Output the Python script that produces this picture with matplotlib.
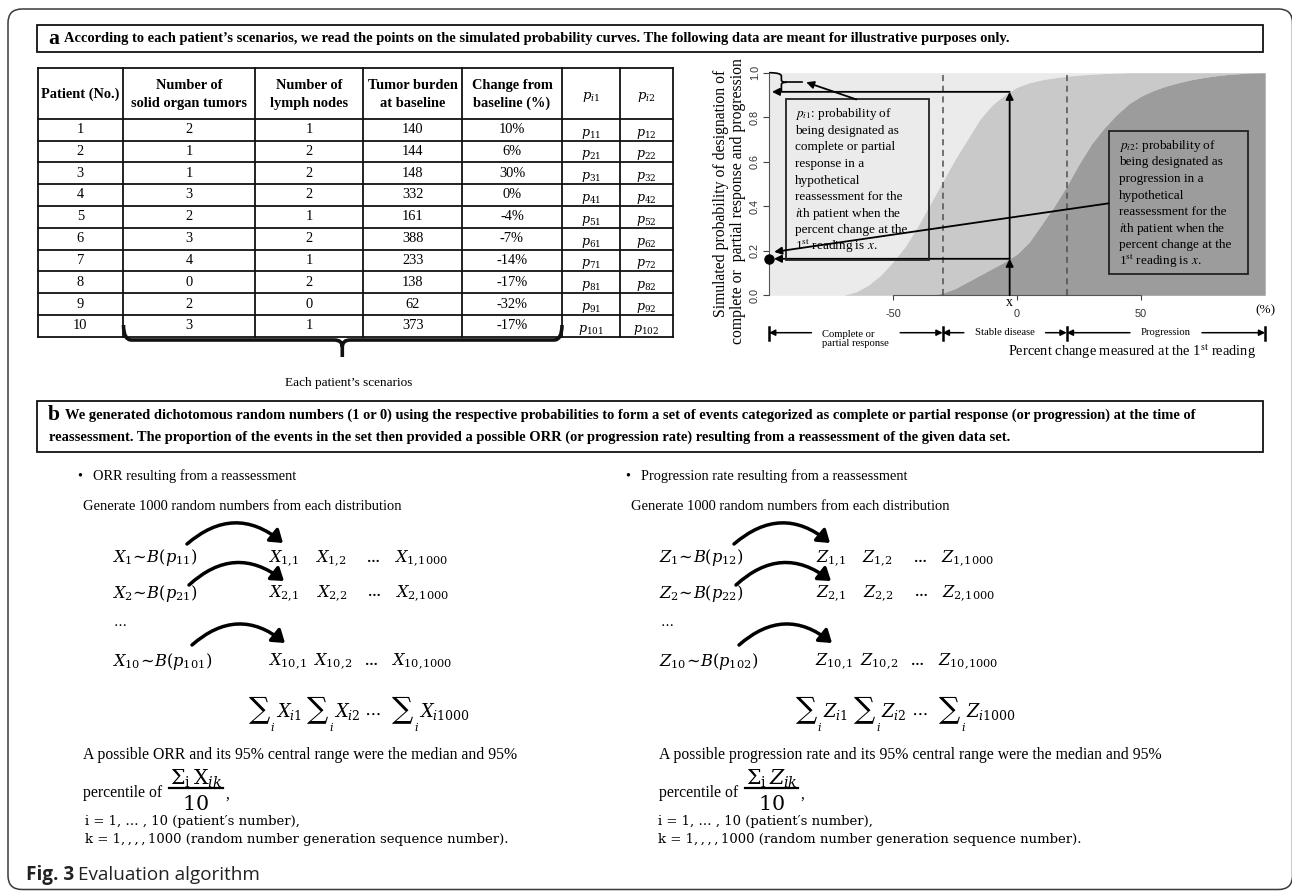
import numpy as np
import matplotlib
matplotlib.use("Agg")
import matplotlib.pyplot as plt
from matplotlib.patches import FancyBboxPatch, Rectangle, PathPatch, FancyArrowPatch
from matplotlib.path import Path
from matplotlib.transforms import blended_transform_factory

SERIF = "Liberation Serif"
SANS = "Liberation Sans"
CAP_FONT = "Open Sans"
MATHF = "dejavuserif"

# ---------------- patient table ----------------
patient_no = [1, 2, 3, 4, 5, 6, 7, 8, 9, 10]
solid_tumors = [2, 1, 1, 3, 2, 3, 4, 0, 2, 3]
lymph_nodes = [1, 2, 2, 2, 1, 2, 1, 2, 0, 1]
baseline_burden = [140, 144, 148, 332, 161, 388, 233, 138, 62, 373]
change_pct = [10, 6, 30, 0, -4, -7, -14, -17, -32, -17]
table_headers = ["Patient (No.)", "Number of\nsolid organ tumors", "Number of\nlymph nodes",
                 "Tumor burden\nat baseline", "Change from\nbaseline (%)",
                 r"$p_{i1}$", r"$p_{i2}$"]

# ---------------- simulated probability curves ----------------
pct_grid = list(range(-100, 101, 5))
# lower edge of the complete/partial-response band (1 - p_i1)
prob_not_response = [0, 0, 0, 0, 0, 0,
                     0.0, 0.015, 0.045, 0.09, 0.15, 0.22, 0.31, 0.41, 0.51, 0.61,
                     0.70, 0.79, 0.855, 0.90, 0.935, 0.955, 0.968, 0.977, 0.984,
                     0.989, 0.993, 0.996, 0.998,
                     1, 1, 1, 1, 1, 1, 1, 1, 1, 1, 1, 1]
# probability of progression p_i2
prob_progression = [0, 0, 0, 0, 0, 0, 0, 0, 0, 0, 0, 0, 0,
                    0.0, 0.01, 0.03, 0.06, 0.09, 0.12, 0.15, 0.185, 0.24, 0.32,
                    0.40, 0.49, 0.59, 0.68, 0.75, 0.81, 0.86, 0.895, 0.92, 0.94,
                    0.955, 0.968, 0.978, 0.986, 0.992, 0.996, 0.999, 1.0]
reading_pct = -3
category_bounds = [-100, -30, 20, 100]
category_labels = ["Complete or\npartial response", "Stable disease", "Progression"]
prob_ticks = [0.0, 0.2, 0.4, 0.6, 0.8, 1.0]
pct_ticks = [-50, 0, 50]

box1_lines = [r"$p_{i1}$: probability of", "being designated as", "complete or partial",
              "response in a", "hypothetical", "reassessment for the",
              r"$i$th patient when the", "percent change at the",
              r"1$^{\mathrm{st}}$ reading is $x$."]
box2_lines = [r"$p_{i2}$: probability of", "being designated as", "progression in a",
              "hypothetical", "reassessment for the", r"$i$th patient when the",
              "percent change at the", r"1$^{\mathrm{st}}$ reading is $x$."]

a_text = ("According to each patient\u2019s scenarios, we read the points on the simulated "
          "probability curves. The following data are meant for illustrative purposes only.")
b_line1 = ("We generated dichotomous random numbers (1 or 0) using the respective probabilities "
           "to form a set of events categorized as complete or partial response (or progression) "
           "at the time of")
b_line2 = ("reassessment. The proportion of the events in the set then provided a possible ORR "
           "(or progression rate) resulting from a reassessment of the given data set.")

LIGHT, MID, DARK = "#ebebeb", "#c9c9c9", "#9c9c9c"

W, H = 1292, 892
fig = plt.figure(figsize=(W / 100, H / 100), dpi=100)
fig.patch.set_facecolor("white")
ov = fig.add_axes([0, 0, 1, 1])
ov.set_xlim(0, W)
ov.set_ylim(H, 0)
ov.axis("off")
renderer = fig.canvas.get_renderer()


def put(x, y, s, size, ha="left", va="center", **kw):
    kw.setdefault("family", SERIF)
    return ov.text(x, y, s, fontsize=size, ha=ha, va=va, **kw)


def extent(t):
    return t.get_window_extent(renderer)


def fitted(s, target, **kw):
    t = put(0, 0, s, 10.0, **kw)
    w = extent(t).width
    t.remove()
    return 10.0 * target / w


def fitted_h(s, target, **kw):
    t = put(0, 0, s, 10.0, **kw)
    h = extent(t).height
    t.remove()
    return 10.0 * target / h


# ---------------- outer frame and panel headers ----------------
ov.add_patch(FancyBboxPatch((8, 9), 1284.5, 880.5,
                            boxstyle="round,pad=0,rounding_size=14",
                            fill=False, lw=1.1, ec="#3a3a3a"))

BOLD = dict(family=SERIF, weight="bold")
s_box = fitted(b_line2, 965, **BOLD)

ov.add_patch(Rectangle((37, 25), 1226, 27, fill=False, lw=1.3, ec="#111"))
ta = put(48, 38.5, "a", s_box * 1.5, **BOLD)
put(extent(ta).x1 + 5, 38.5, a_text, s_box, **BOLD)

ov.add_patch(Rectangle((37, 401), 1226, 51, fill=False, lw=1.3, ec="#111"))
tb = put(48, 415.5, "b", s_box * 1.5, **BOLD)
put(extent(tb).x1 + 5, 415.5, b_line1, s_box, **BOLD)
put(48.7, 437.5, b_line2, s_box, **BOLD)

# ---------------- table ----------------
col_edges = [37.9, 122.7, 255.3, 362.8, 462.4, 561.5, 620.4, 672.6]
head_top, head_bot, tab_bot = 68.3, 118.7, 336.7
row_h = (tab_bot - head_bot) / len(patient_no)
col_mid = [(a + b) / 2 for a, b in zip(col_edges[:-1], col_edges[1:])]
for xe in col_edges:
    ov.plot([xe, xe], [head_top, tab_bot], color="#111", lw=1.3, solid_capstyle="projecting")
for yy in [head_top, head_bot] + [head_bot + row_h * (i + 1) for i in range(len(patient_no))]:
    ov.plot([col_edges[0], col_edges[-1]], [yy, yy], color="#111", lw=1.3,
            solid_capstyle="projecting")

s_th = fitted("solid organ tumors", 116, **BOLD)
s_p = fitted(r"$p_{11}$", 20, math_fontfamily=MATHF)
for k, h in enumerate(table_headers):
    if h.startswith("$"):
        put(col_mid[k], 97, h, s_p * 1.05, ha="center", math_fontfamily=MATHF)
        continue
    lines = h.split("\n")
    if len(lines) == 1:
        put(col_mid[k], 94.3, lines[0], s_th, ha="center", **BOLD)
    else:
        put(col_mid[k], 85.7, lines[0], s_th, ha="center", **BOLD)
        put(col_mid[k], 103.3, lines[1], s_th, ha="center", **BOLD)

for i, (pn, so, ly, bu, ch) in enumerate(zip(patient_no, solid_tumors, lymph_nodes,
                                             baseline_burden, change_pct)):
    cy = head_bot + row_h * (i + 0.5)
    for k, v in enumerate([str(pn), str(so), str(ly), str(bu), f"{ch}%"]):
        put(col_mid[k], cy, v, s_th, ha="center")
    put(col_mid[5], cy + 4, rf"$p_{{{pn}1}}$", s_p, ha="center", math_fontfamily=MATHF)
    put(col_mid[6], cy + 4, rf"$p_{{{pn}2}}$", s_p, ha="center", math_fontfamily=MATHF)

# brace grouping the scenario columns
xl, xr, xm = 123.5, 562.0, 342.3
yb, ytip, yarm = 340.0, 357.0, 325.0
brace = Path([(xl, yarm), (xl, yb), (xl + 8, yb), (xm - 8, yb), (xm, yb), (xm, yb + 7),
              (xm, ytip), (xm, yb + 7), (xm, yb), (xm + 8, yb), (xr - 8, yb),
              (xr, yb), (xr, yarm)],
             [Path.MOVETO, Path.CURVE3, Path.CURVE3, Path.LINETO, Path.CURVE3, Path.CURVE3,
              Path.LINETO, Path.MOVETO, Path.CURVE3, Path.CURVE3, Path.LINETO,
              Path.CURVE3, Path.CURVE3])
ov.add_patch(PathPatch(brace, fill=False, lw=2.6, ec="#111", capstyle="butt"))
put(349, 383, "Each patient\u2019s scenarios",
    fitted("Each patient\u2019s scenarios", 127), ha="center")

# ---------------- probability chart ----------------
ax = fig.add_axes([769 / W, 1 - 295.3 / H, (1265.2 - 769) / W, (295.3 - 72.7) / H])
ax.set_facecolor("none")
xg = np.array(pct_grid, float)
c1 = np.array(prob_not_response, float)
c2 = np.array(prob_progression, float)
ax.fill_between(xg, c1, 1.0, color=LIGHT, lw=0)
ax.fill_between(xg, c2, c1, color=MID, lw=0)
ax.fill_between(xg, 0, c2, color=DARK, lw=0)
ax.set_xlim(-100, 100)
ax.set_ylim(0, 1)
for side in ("top", "right"):
    ax.spines[side].set_visible(False)
ax.spines["left"].set_bounds(0, 1)
ax.spines["bottom"].set_bounds(pct_ticks[0], pct_ticks[-1])
for side in ("left", "bottom"):
    ax.spines[side].set_color("#555")
    ax.spines[side].set_linewidth(0.8)
ax.set_xticks(pct_ticks)
ax.set_xticklabels([f"{v:g}" for v in pct_ticks])
ax.set_yticks(prob_ticks)
ax.set_yticklabels([f"{v:.1f}" for v in prob_ticks], rotation=90, va="center")
ax.tick_params(axis="both", colors="#444", labelsize=7.8, width=0.8)
ax.tick_params(axis="y", length=4, pad=2.5)
ax.tick_params(axis="x", length=3.4, pad=6.5)
for lab in ax.get_xticklabels() + ax.get_yticklabels():
    lab.set_family(SANS)
    lab.set_color("#333")

for b in category_bounds[1:-1]:
    ax.axvline(b, color="#505050", lw=1.1, ls=(0, (4, 3)))

AP = dict(arrowstyle="-|>", color="black", lw=1.3, mutation_scale=11, shrinkA=0, shrinkB=0)
p1 = float(np.interp(reading_pct, xg, c1))
p2 = float(np.interp(reading_pct, xg, c2))
ax.annotate("", xy=(reading_pct, p2), xytext=(reading_pct, 0), arrowprops=AP)
ax.annotate("", xy=(reading_pct, p1), xytext=(reading_pct, p2), arrowprops=AP)
ax.annotate("", xy=(-98.8, p1), xytext=(reading_pct, p1), arrowprops=AP)
ax.annotate("", xy=(-98.0, p2), xytext=(reading_pct, p2), arrowprops=AP)
ax.plot([-100], [p2], "o", ms=6.5, color="black", clip_on=False, zorder=6)

# brace marking p_i1 at the top of the axis
xb = -95.0
ymid = (1.0 + p1) / 2
top_arm = Path([(-100, 1.0), (xb, 1.0), (xb, 0.985), (xb, ymid + 0.01),
                (xb, ymid), (xb + 2.0, ymid)],
               [Path.MOVETO, Path.CURVE3, Path.CURVE3, Path.LINETO, Path.CURVE3, Path.CURVE3])
low_arm = Path([(xb + 2.0, ymid), (xb, ymid), (xb, ymid - 0.01), (xb, p1)],
               [Path.MOVETO, Path.CURVE3, Path.CURVE3, Path.LINETO])
for pth in (top_arm, low_arm):
    ax.add_patch(PathPatch(pth, fill=False, lw=1.2, ec="black", clip_on=False))
ax.plot([xb + 2.0, -86.5], [ymid, ymid], color="black", lw=1.2)

# explanatory boxes
box1 = (-93.2, 0.159, 57.5, 0.721)
box2 = (37.1, 0.094, 56.1, 0.644)
for bx in (box1, box2):
    ax.add_patch(Rectangle(bx[:2], bx[2], bx[3], fill=False, lw=1.3, ec="#222", zorder=4))
s_in = fitted("being designated as", 104)
for lines, x0, ytop in ((box1_lines, -89.5, 0.814), (box2_lines, 40.9, 0.672)):
    for k, line in enumerate(lines):
        ax.text(x0, ytop - k * 0.0745 - 0.014, line, fontsize=s_in, family=SERIF,
                math_fontfamily="stix", ha="left", va="baseline", zorder=5)
ax.annotate("", xy=(-85.0, ymid), xytext=(-64.8, box1[1] + box1[3]), arrowprops=AP, zorder=6)
ax.annotate("", xy=(-97.9, 0.195), xytext=(box2[0] - 0.3, 0.413), arrowprops=AP, zorder=6)

# labels below the axis
tr = blended_transform_factory(ax.transData, ov.transData)
ax.text(reading_pct, 303, "x", transform=tr, ha="center", va="center", family=SERIF,
        fontsize=10, clip_on=False)
ax.text(100, 310, "(%)", transform=tr, ha="center", va="center", family=SERIF,
        fontsize=9.5, clip_on=False)

s_cat = fitted("Stable disease", 60)
arrow_y = 332.7
inv = ax.transData.inverted()
gap = 11 / 2.481
AP2 = dict(arrowstyle="-|>", color="black", lw=1.1, mutation_scale=9, shrinkA=0, shrinkB=0)
for (lo, hi), lab in zip(zip(category_bounds[:-1], category_bounds[1:]), category_labels):
    mid = (lo + hi) / 2
    nl = lab.count("\n")
    t = ax.text(mid, arrow_y + 6.6 * nl, lab, transform=tr, ha="center", va="center",
                multialignment="left", linespacing=1.05, family=SERIF, fontsize=s_cat,
                clip_on=False)
    bb = extent(t)
    tx0 = inv.transform((bb.x0, 0))[0]
    tx1 = inv.transform((bb.x1, 0))[0]
    ax.annotate("", xy=(lo, arrow_y), xytext=(tx0 - gap, arrow_y), xycoords=tr,
                textcoords=tr, arrowprops=AP2, annotation_clip=False)
    ax.annotate("", xy=(hi, arrow_y), xytext=(tx1 + gap, arrow_y), xycoords=tr,
                textcoords=tr, arrowprops=AP2, annotation_clip=False)
for b in category_bounds:
    ax.plot([b, b], [326.7, 340], transform=tr, color="black", lw=1.8, clip_on=False)

xlab = r"Percent change measured at the 1$^{\mathrm{st}}$ reading"
put(1256, 351.7, xlab, fitted(xlab, 247, math_fontfamily="stix"), ha="right",
    math_fontfamily="stix")

ylab1 = "Simulated probability of designation of"
ylab2 = "complete or  partial response and progression"
s_yl = fitted(ylab1, 248)
put(720.7, 193, ylab1, s_yl, ha="center", rotation=90)
put(737.6, 201, ylab2, s_yl, ha="center", rotation=90)

# ---------------- part b: resampling scheme ----------------
columns = [
    dict(var="X", j="1", title="ORR resulting from a reassessment", rate="ORR",
         num=r"$\Sigma_{\mathrm{i}}\,\mathrm{X}_{ik}$"),
    dict(var="Z", j="2", title="Progression rate resulting from a reassessment",
         rate="progression rate", num=r"$\Sigma_{\mathrm{i}}\,Z_{ik}$"),
]
dx_top = [0, 548]      # bullet lines
dx_gen = [0, 548]      # "Generate ..." line
dx_form = [0, 547]     # formula block
dx_bot = [0, 576]      # closing sentences
row_idx = ["1", "2", "10"]
row_base = [562.5, 597.5, 666.0]
row_item_x = [[268.5, 315, 367, 394], [268.5, 316, 368, 395], [268, 313, 364.5, 391]]
arcs = [((187, 544), (283, 543)), ((189, 585), (284, 581)), ((192, 645), (285, 643))]

s_title = fitted(columns[0]["title"], 204)
s_gen = fitted("Generate 1000 random numbers from each distribution", 318)
s_form = fitted(r"$X_{1}\!\sim\! B(p_{11})$", 86, math_fontfamily=MATHF)
s_sum = s_form * 1.1
s_sig = fitted_h(r"$\sum$", 33, math_fontfamily=MATHF)
ref_sent = "A possible ORR and its 95% central range were the median and 95%"
s_sent = fitted(ref_sent, 436)
s_idx = fitted("i = 1, \u2026 , 10 (patient\u2032s number),", 216, family="DejaVu Serif")
s_frac = fitted(columns[0]["num"], 53.5, math_fontfamily=MATHF)

for c, col in enumerate(columns):
    V, j = col["var"], col["j"]
    dt, dg, df, db = dx_top[c], dx_gen[c], dx_form[c], dx_bot[c]
    put(77.4 + dt, 476, "\u2022", s_title)
    put(92.7 + dt, 476, col["title"], s_title)
    put(83.1 + dg, 506, "Generate 1000 random numbers from each distribution", s_gen)

    for r, (k, base, xs) in enumerate(zip(row_idx, row_base, row_item_x)):
        put(111.8 + df, base, rf"${V}_{{{k}}}\!\sim\! B(p_{{{k}{j}}})$", s_form,
            va="baseline", math_fontfamily=MATHF)
        items = [rf"${V}_{{{k},\!1}}$", rf"${V}_{{{k},\!2}}$", None,
                 rf"${V}_{{{k},\!1000}}$"]
        for xi, it in zip(xs, items):
            if it is None:
                put(xi + df, base - 1, "\u2026", s_form * 0.8, va="baseline",
                    family="DejaVu Serif", weight="bold")
            else:
                put(xi + df, base, it, s_form, va="baseline", math_fontfamily=MATHF)
    put(113.8 + df, 626, "\u2026", s_form * 0.8, va="baseline", family="DejaVu Serif")

    for (p0, p1a) in arcs:
        ov.add_patch(FancyArrowPatch((p0[0] + df, p0[1]), (p1a[0] + df, p1a[1]),
                                     connectionstyle="arc3,rad=-0.42",
                                     arrowstyle="-|>,head_length=0.55,head_width=0.38",
                                     mutation_scale=13, lw=2.5, color="black",
                                     shrinkA=0, shrinkB=0))

    sum_base = 716.7
    for x0, sub in zip([247.7, 306.2, 391.2], ["1", "2", "1000"]):
        sg = put(x0 + df, sum_base - 6.7, r"$\sum$", s_sig, math_fontfamily=MATHF)
        si = put(extent(sg).x1 - 0.5, sum_base + 10, r"$i$", s_sum * 0.62,
                 math_fontfamily=MATHF)
        put(extent(si).x1 + 0.5, sum_base, rf"${V}_{{i{sub}}}$", s_sum, va="baseline",
            math_fontfamily=MATHF)
    put(372 + df, 713.3, r"$\cdots$", s_sum, ha="center", math_fontfamily=MATHF,
        weight="bold")

    sent = f"A possible {col['rate']} and its 95% central range were the median and 95%"
    put(83.1 + db, 755, sent, s_sent)
    pc = put(83.1 + db, 793.3, "percentile of", s_sent)
    fx0 = extent(pc).x1 + 7.5
    nt = put(fx0, 779, col["num"], s_frac, math_fontfamily=MATHF)
    nb = extent(nt)
    ov.plot([fx0 - 0.5, nb.x1 + 0.5], [788.3, 788.3], color="black", lw=1.6)
    put((fx0 + nb.x1) / 2, 805, r"$10$", s_frac, ha="center", math_fontfamily=MATHF)
    put(nb.x1 + 3, 795, ",", s_sent)
    put(85 + db - (3 if c else 0), 822, "i = 1, \u2026 , 10 (patient\u2032s number),", s_idx,
        family="DejaVu Serif")
    put(85 + db - (3 if c else 0), 839,
        "k = 1,\u2009,\u2009,\u2009,\u20091000 (random number generation sequence number).",
        s_idx, family="DejaVu Serif")

# ---------------- caption ----------------
cap = "Fig. 3 Evaluation algorithm"
s_cap = fitted(cap, 232, family=CAP_FONT)
tf = put(26, 875, "Fig. 3", s_cap, family=CAP_FONT, weight="bold", color="#222")
put(extent(tf).x1 + 4, 875, "Evaluation algorithm", s_cap, family=CAP_FONT, color="#222")

fig.savefig("out.png", dpi=100)
